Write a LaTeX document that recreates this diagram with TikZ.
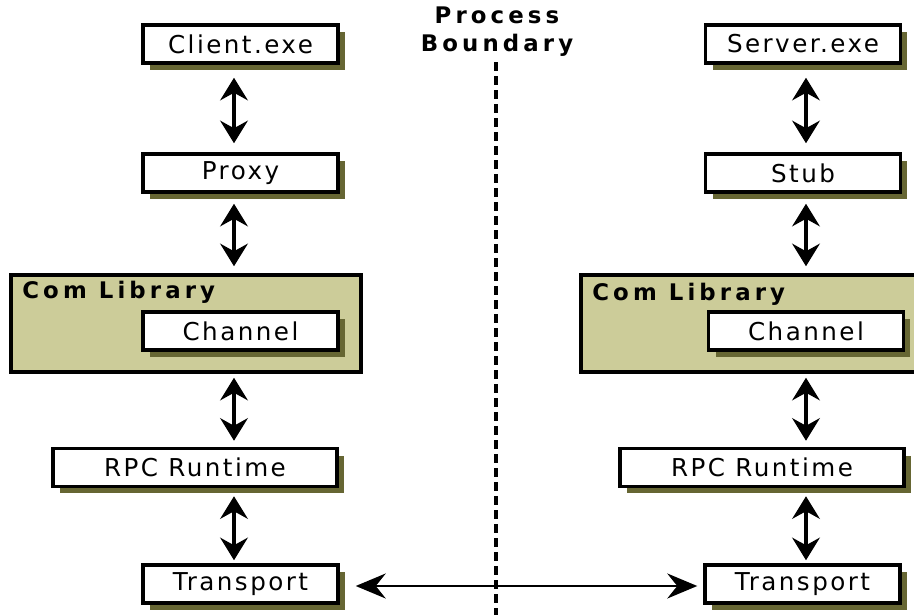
\documentclass[tikz,border=0pt]{standalone}
\usepackage{fontspec}
\usepackage{tikz}
\usetikzlibrary{arrows.meta,positioning,shadows}
\newfontfamily\boxfont[LetterSpace=10]{DejaVu Sans}
\newfontfamily\headfont[LetterSpace=18]{DejaVu Sans}
\definecolor{ComOlive}{RGB}{204,204,153}
\definecolor{ShadeOlive}{RGB}{102,102,51}

\begin{document}
\begin{tikzpicture}[x=0.02cm, y=-0.02cm,
            box/.style={draw, line width=2pt, fill=white, minimum width=3.9cm,
                        minimum height=0.76cm, inner sep=0pt,
                        font=\boxfont\fontsize{14}{16}\selectfont,
                        drop shadow={shadow xshift=0.14cm, shadow yshift=-0.14cm,
                                     fill=ShadeOlive, opacity=1}},
            lib/.style={draw, line width=2pt, fill=ComOlive, minimum width=7cm,
                        minimum height=1.94cm, inner sep=0pt},
            head/.style={font=\headfont\bfseries\fontsize{13}{15}\selectfont,
                         inner sep=0pt, align=center},
            arr/.style={{Stealth[length=0.45cm,width=0.55cm,inset=0.15cm]}-{Stealth[length=0.45cm,width=0.55cm,inset=0.15cm]},
                        line width=2.4pt},
            harr/.style={{Stealth[length=0.6cm,width=0.5cm,inset=0.2cm]}-{Stealth[length=0.6cm,width=0.5cm,inset=0.2cm]},
                         line width=1.5pt}
        ]
            \useasboundingbox (0,0) rectangle (914,615);

            \coordinate (lcol) at (234,0);
            \coordinate (rcol) at (806,0);

            \node[box] (client)  at (240.5,44)  {Client.exe};
            \node[box] (proxy)   at (240.5,173) {Proxy};
            \node[lib] (libL)    at (186,323.5) {};
            \node[head, anchor=west] (libLt) at (22,292) {Com Library};
            \node[box] (chanL)   at (240.5,331) {Channel};
            \node[box, minimum width=5.68cm] (rpcL) at (195,467.5) {RPC Runtime};
            \node[box] (transL)  at (240.5,584) {Transport};

            \node[box] (server)  at (803,44)    {Server.exe};
            \node[box] (stub)    at (803,173)   {Stub};
            \node[lib] (libR)    at (756,323.5) {};
            \node[head, anchor=west] (libRt) at (592,294) {Com Library};
            \node[box] (chanR)   at (806,331)   {Channel};
            \node[box, minimum width=5.68cm] (rpcR) at (762,467.5) {RPC Runtime};
            \node[box] (transR)  at (802.5,584) {Transport};

            \node[head] (bound) at (497,32) {Process\\[1pt]Boundary};
            \coordinate (bottom) at (496,615);
            \draw[line width=2.4pt, dash pattern=on 0.18cm off 0.1cm]
                ([yshift=-0.1cm]bound.south -| bottom) -- (bottom);

            \draw[arr, shorten <=0.26cm, shorten >=0.18cm] (client.south -| lcol) -- (proxy.north -| lcol);
            \draw[arr, shorten <=0.2cm, shorten >=0.14cm] (proxy.south -| lcol) -- (libL.north -| lcol);
            \draw[arr, shorten <=0.08cm, shorten >=0.12cm] (libL.south -| lcol) -- (rpcL.north -| lcol);
            \draw[arr, shorten <=0.16cm, shorten >=0.06cm] (rpcL.south -| lcol) -- (transL.north -| lcol);

            \draw[arr, shorten <=0.26cm, shorten >=0.18cm] (server.south -| rcol) -- (stub.north -| rcol);
            \draw[arr, shorten <=0.2cm, shorten >=0.14cm] (stub.south -| rcol) -- (libR.north -| rcol);
            \draw[arr, shorten <=0.08cm, shorten >=0.12cm] (libR.south -| rcol) -- (rpcR.north -| rcol);
            \draw[arr, shorten <=0.16cm, shorten >=0.06cm] (rpcR.south -| rcol) -- (transR.north -| rcol);

            \draw[harr, shorten <=0.32cm, shorten >=0.12cm] ([yshift=-0.04cm]transL.east) -- ([yshift=-0.04cm]transR.west);

        \end{tikzpicture}
\end{document}
